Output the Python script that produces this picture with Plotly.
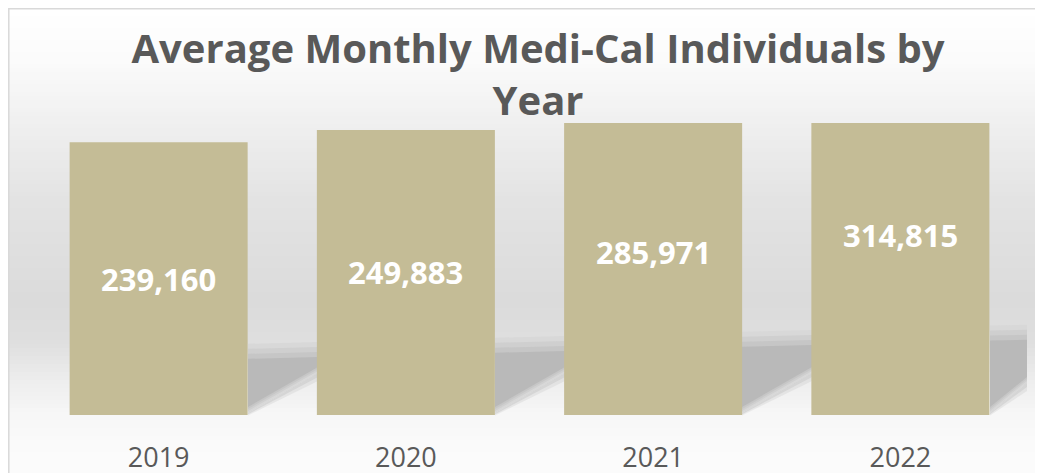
import plotly.graph_objects as go

# ---- data ----
years = ["2019", "2020", "2021", "2022"]
individuals = [239160, 249883, 285971, 314815]
label_text = ["239,160", "249,883", "285,971", "314,815"]
title_text = "Average Monthly Medi-Cal Individuals by<br>Year"

W, H = 1043, 473
OFF = 8  # the page body margin shifts the figure by 8px
L, T = 35 - OFF, 123 - OFF
PW, PH = 989, 292
R = W - L - PW
B = H - T - PH

def px(x):  # x in screen pixels -> paper
    return (x - OFF - L) / PW

def py(y):  # y in screen pixels -> paper
    return (T + PH - (y - OFF)) / PH

bar_color = "#C4BC96"
text_gray = "#595959"

fig = go.Figure()
fig.add_trace(go.Bar(
    x=years, y=individuals, marker=dict(color=bar_color, line=dict(width=0)),
    hoverinfo="x+y", showlegend=False,
))

# data labels at the centre of each (full) bar (category index on the x axis)
for i, (v, t) in enumerate(zip(individuals, label_text)):
    fig.add_annotation(x=i, y=v / 2, xref="x", yref="y", text=t, showarrow=False,
                       font=dict(family="Open Sans", size=31, color="white", weight="bold"),
                       xanchor="center", yanchor="middle")

shapes = []
# background gradient (grey band fading to white top and bottom)
stops = [(0, 255), (8, 255), (60, 251), (120, 240), (200, 227), (300, 219), (340, 222),
         (380, 237), (415, 247), (440, 250), (490, 252)]

def gray_at(y):
    for (y0, g0), (y1, g1) in zip(stops[:-1], stops[1:]):
        if y0 <= y <= y1:
            return g0 + (g1 - g0) * (y - y0) / (y1 - y0 if y1 != y0 else 1)
    return stops[-1][1]

step = 4
for y in range(0, H + 16, step):
    g = int(round(gray_at(y + step / 2)))
    shapes.append(dict(type="rect", xref="paper", yref="paper", layer="below",
                       x0=px(0), x1=px(W + 16), y0=py(y), y1=py(y + step + 0.5),
                       fillcolor=f"rgb({g},{g},{g})", line=dict(width=0)))

# floor shadows behind the bars
def top_y(x):
    return 349 - (x - 35) * 0.0245

bar_rights = [248, 495, 742, 990]
gap_ends = [318, 565, 812, 1027]
layers = [(0, "#d8d8d8"), (5, "#cfcfcf"), (10, "#c6c6c6"), (15, "#b9b9b9")]
for xr, xe in zip(bar_rights, gap_ends):
    drop = 40 if xe != 1027 else 30
    for off, col in layers:
        t0, t1 = top_y(xr) + off, top_y(xe) + off
        b0, b1 = 413 - off * 0.4, 413 - drop - off * 0.4
        path = (f"M {px(xr)},{py(t0)} L {px(xe)},{py(t1)} L {px(xe)},{py(b1)} "
                f"L {px(xr)},{py(b0)} Z")
        shapes.append(dict(type="path", xref="paper", yref="paper", layer="below",
                           path=path, fillcolor=col, line=dict(width=0)))
    # soft fade along the diagonal edge
    for k, op in [(4, 0.5), (8, 0.3)]:
        path = (f"M {px(xr)},{py(413)} L {px(xe)},{py(413 - drop)} "
                f"L {px(xe)},{py(413 - drop + k)} L {px(xr)},{py(413 + k * 0.3)} Z")
        shapes.append(dict(type="path", xref="paper", yref="paper", layer="below",
                           path=path, fillcolor="#c8c8c8", opacity=op, line=dict(width=0)))

# outer chart border
shapes.append(dict(type="rect", xref="paper", yref="paper", layer="above",
                   x0=px(8.8), x1=px(1070), y0=py(8.8), y1=py(500),
                   fillcolor="rgba(0,0,0,0)", line=dict(color="#d9d9d9", width=1.5)))

fig.update_layout(
    width=W, height=H,
    margin=dict(l=L, r=R, t=T, b=B, autoexpand=False),
    paper_bgcolor="white", plot_bgcolor="rgba(0,0,0,0)",
    bargap=0.28,
    shapes=shapes,
    title=dict(text=title_text, x=(538 - OFF) / W, xanchor="center", xref="container",
               y=1 - 55 / H, yanchor="top", yref="container",
               font=dict(family="Open Sans", size=40, color=text_gray, weight="bold")),
    xaxis=dict(type="category", range=[-0.5, len(years) - 0.5], autorange=False,
               showgrid=False, showline=False, zeroline=False, ticks="",
               ticklabelstandoff=24,
               tickfont=dict(family="Open Sans", size=27, color=text_gray)),
    yaxis=dict(range=[0, 256000], visible=False, showgrid=False, zeroline=False),
    font=dict(family="Open Sans"),
)

fig.write_html("out.html")
